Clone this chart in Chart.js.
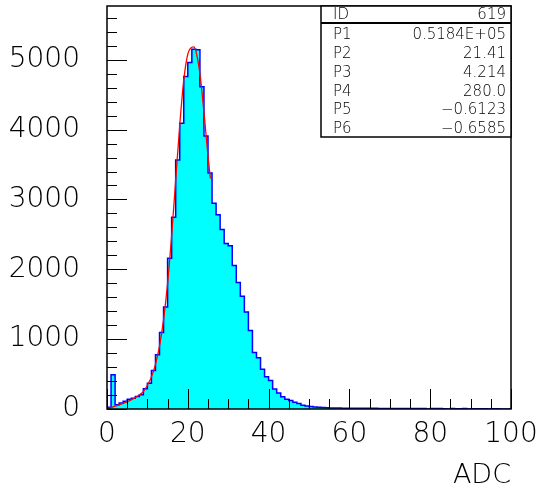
<!DOCTYPE html>
<html><head><meta charset="utf-8">
<script src="https://cdn.jsdelivr.net/npm/chart.js@4"></script>
<style>html,body{margin:0;padding:0;background:#fff}#wrap{width:539px;height:490px}canvas{display:block}</style>
</head><body>
<div id="wrap"><canvas id="c" width="539" height="490"></canvas></div>
<script>
// bin lower edges (ADC), bin width 1
const adcBins = Array.from({length: 100}, (_, i) => i);
const counts = [
  25, 490, 60, 85, 110, 140, 155, 180, 205, 290,
  370, 550, 775, 1095, 1460, 2160, 2745, 3565, 4090, 4760,
  4960, 5150, 5145, 4615, 3910, 3380, 2945, 2780, 2571, 2371,
  2338, 2053, 1810, 1615, 1388, 1124, 808, 732, 570, 463,
  407, 286, 229, 175, 140, 122, 98, 78, 52, 43,
  36, 30, 25, 22, 19, 16, 14, 13, 12, 12,
  11, 10, 10, 10, 9, 9, 9, 8, 8, 8,
  8, 7, 7, 7, 8, 7, 6, 7, 6, 0,
  6, 6, 6, 5, 0, 6, 5, 5, 6, 0,
  5, 5, 5, 5, 0, 5, 5, 0, 0, 0
];
const fitX = [0, 2, 4, 6, 8, 9, 10, 11, 12, 13, 14, 15, 16, 17, 18, 19, 20, 21, 21.5, 22, 23, 24, 25, 25.6];
const fitY = [0, 40, 80, 130, 200, 250, 340, 460, 640, 900, 1280, 1800, 2480, 3280, 4060, 4710, 5080, 5180, 5185, 5125, 4800, 4250, 3620, 3300];
const xTickLabels = [0, 20, 40, 60, 80, 100];
const yTickLabels = [0, 1000, 2000, 3000, 4000, 5000];
const statNames = ['ID', 'P1', 'P2', 'P3', 'P4', 'P5', 'P6'];
const statValues = ['619', '0.5184E+05', '21.41', '4.214', '280.0', '\u22120.6123', '\u22120.6585'];

const FONT = "'DejaVu Sans', sans-serif";

const histPoints = [{x: adcBins[0], y: 0}];
adcBins.forEach((b, i) => histPoints.push({x: b, y: counts[i]}));
histPoints.push({x: adcBins[adcBins.length - 1] + 1, y: counts[counts.length - 1]});
histPoints.push({x: adcBins[adcBins.length - 1] + 1, y: 0});
const fitPoints = fitX.map((x, i) => ({x, y: fitY[i]}));

const pawPlugin = {
  id: 'paw',
  afterDatasetsDraw(chart) {
    const {ctx, chartArea: a, scales: {x, y}} = chart;
    ctx.save();
    ctx.strokeStyle = '#000';
    ctx.lineWidth = 1;
    ctx.beginPath();
    for (let v = x.min; v <= x.max; v += 5) {
      const px = Math.round(x.getPixelForValue(v)) + 0.5;
      const len = v % 20 === 0 ? 20 : 10;
      ctx.moveTo(px, a.bottom); ctx.lineTo(px, a.bottom - len);
    }
    for (let v = y.min; v <= y.max; v += 200) {
      const py = Math.round(y.getPixelForValue(v)) + 0.5;
      const len = v % 1000 === 0 ? 20 : 10;
      ctx.moveTo(a.left, py); ctx.lineTo(a.left + len, py);
    }
    ctx.stroke();
    ctx.lineWidth = 1.5;
    ctx.strokeRect(a.left, a.top, a.right - a.left, a.bottom - a.top);

    // statistics box
    const bx = 321, by = a.top, bw = a.right - bx, bh = 131;
    ctx.fillStyle = '#fff';
    ctx.fillRect(bx, by, bw, bh);
    ctx.lineWidth = 1.5;
    ctx.strokeRect(bx, by, bw, bh);
    ctx.lineWidth = 2;
    ctx.beginPath(); ctx.moveTo(bx, by + 17); ctx.lineTo(bx + bw, by + 17); ctx.stroke();
    ctx.fillStyle = '#000';
    ctx.font = "200 15px " + FONT;
    ctx.textBaseline = 'middle';
    statNames.forEach((n, i) => {
      const cy = i === 0 ? by + 9 : by + 29 + (i - 1) * 18.9;
      ctx.textAlign = 'left'; ctx.fillText(n, bx + 12, cy);
      ctx.textAlign = 'right'; ctx.fillText(statValues[i], bx + bw - 5, cy);
    });
    ctx.restore();
  }
};

new Chart(document.getElementById('c'), {
  type: 'line',
  data: {
    datasets: [
      {data: fitPoints, borderColor: '#ff0000', borderWidth: 1.3, pointRadius: 0, fill: false, cubicInterpolationMode: 'monotone'},
      {data: histPoints, borderColor: '#0000ff', borderWidth: 1.5, backgroundColor: '#00ffff', pointRadius: 0, fill: 'origin', stepped: 'before'}
    ]
  },
  options: {
    responsive: false, animation: false, devicePixelRatio: 1,
    layout: {padding: {left: 0, right: 28, top: 6, bottom: 0}},
    plugins: {legend: {display: false}, tooltip: {enabled: false}},
    scales: {
      x: {
        type: 'linear', min: 0, max: 100,
        grid: {display: false, drawTicks: false}, border: {display: false},
        afterBuildTicks: s => { s.ticks = xTickLabels.map(v => ({value: v})); },
        afterFit: s => { s.height = 81; s.paddingLeft = 0; s.paddingRight = 0; },
        ticks: {color: '#000', font: {family: FONT, size: 28, weight: '200'}, padding: 9, maxRotation: 0, autoSkip: false, callback: v => String(v)},
        title: {display: true, text: 'ADC', align: 'end', color: '#000', font: {family: FONT, size: 27, weight: '200'}, padding: {top: 0, bottom: -2}}
      },
      y: {
        type: 'linear', min: 0, max: 5770,
        grid: {display: false, drawTicks: false}, border: {display: false},
        afterBuildTicks: s => { s.ticks = yTickLabels.map(v => ({value: v})); },
        afterFit: s => { s.width = 107; s.paddingTop = 0; s.paddingBottom = 0; },
        ticks: {color: '#000', font: {family: FONT, size: 28, weight: '200'}, padding: 27, autoSkip: false, callback: v => String(v)}
      }
    }
  },
  plugins: [pawPlugin]
});
</script>
</body></html>
